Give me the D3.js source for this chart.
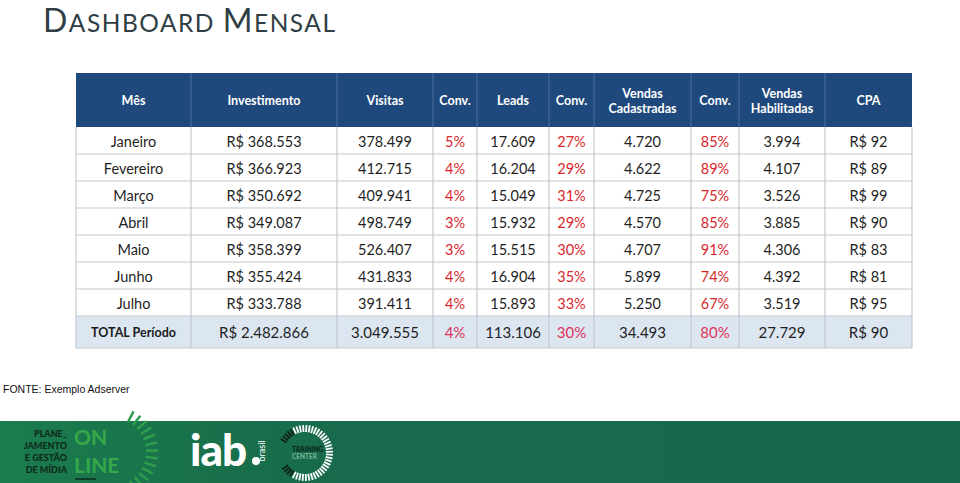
<!DOCTYPE html>
<html>
<head>
  <meta charset="utf-8">
  <title>Dashboard Mensal</title>
  <script src="https://cdn.jsdelivr.net/npm/d3@7"></script>
  <style>
    body { margin: 0; background: #fff; }
    text { font-family: Lato, "Open Sans", sans-serif; }
  </style>
</head>
<body>
<script>
    // data
    var meses        = ["Janeiro", "Fevereiro", "Março", "Abril", "Maio", "Junho", "Julho"]
    var investimento = [368553, 366923, 350692, 349087, 358399, 355424, 333788]
    var visitas      = [378499, 412715, 409941, 498749, 526407, 431833, 391411]
    var convVisitas  = [5, 4, 4, 3, 3, 4, 4]
    var leads        = [17609, 16204, 15049, 15932, 15515, 16904, 15893]
    var convLeads    = [27, 29, 31, 29, 30, 35, 33]
    var vendasCad    = [4720, 4622, 4725, 4570, 4707, 5899, 5250]
    var convCad      = [85, 89, 75, 85, 91, 74, 67]
    var vendasHab    = [3994, 4107, 3526, 3885, 4306, 4392, 3519]
    var cpa          = [92, 89, 99, 90, 83, 81, 95]
    var totais       = [2482866, 3049555, 4, 113106, 30, 34493, 80, 27729, 90]

    var headers = [["Mês"], ["Investimento"], ["Visitas"], ["Conv."], ["Leads"], ["Conv."],
                   ["Vendas", "Cadastradas"], ["Conv."], ["Vendas", "Habilitadas"], ["CPA"]]

    var W = 960, H = 483
    var svg = d3.select("body").append("svg").attr("width", W).attr("height", H)

    // number formats (pt-BR)
    var br = d3.formatLocale({decimal: ",", thousands: ".", grouping: [3], currency: ["R$ ", ""]})
    var fNum = br.format(","), fMoney = br.format("$,")
    var fPct = function(d) { return d + "%" }

    // column types: text / money / number / pct
    var colType = ["text", "money", "num", "pct", "num", "pct", "num", "pct", "num", "money"]
    var colW = [115, 146, 96, 44, 72, 45, 97, 48, 86, 87]
    var left = 76
    var edges = [left]
    colW.forEach(function(w) { edges.push(edges[edges.length - 1] + w) })
    var x = d3.scaleOrdinal().domain(d3.range(colW.length)).range(edges.slice(0, -1))
    var right = edges[edges.length - 1]

    var headTop = 73, headBot = 127, totalH = 32
    var y = d3.scaleBand().domain(meses).range([headBot, headBot + 27 * meses.length])
    var totalTop = y.range()[1]

    // title
    var title = svg.append("text").attr("x", 43).attr("y", 32).attr("fill", "#2f3e44")
        .attr("letter-spacing", 1.5)
    ;[["D", 32], ["ASHBOARD ", 24.5], ["M", 32], ["ENSAL", 24.5]].forEach(function(p) {
        title.append("tspan").attr("font-size", p[1]).text(p[0])
    })

    // header
    svg.append("rect").attr("x", left).attr("y", headTop)
        .attr("width", right - left).attr("height", headBot - headTop).attr("fill", "#1f497d")
    svg.selectAll(".hsep").data(edges.slice(1, -1)).enter().append("line")
        .attr("x1", function(d) { return d }).attr("x2", function(d) { return d })
        .attr("y1", headTop).attr("y2", headBot)
        .attr("stroke", "#4f6f98").attr("stroke-width", 1)
    var hcy = (headTop + headBot) / 2 + 1
    svg.selectAll(".htxt").data(headers).enter().append("text")
        .attr("text-anchor", "middle").attr("fill", "#fff")
        .attr("font-size", 12.5).attr("font-weight", "bold")
        .each(function(d, i) {
            var t = d3.select(this), cx = x(i) + colW[i] / 2
            d.forEach(function(s, k) {
                t.append("tspan").attr("x", cx)
                    .attr("y", hcy + (k - (d.length - 1) / 2) * 15)
                    .attr("dy", "0.35em").text(s)
            })
        })

    // body rows
    var cols = [meses, investimento, visitas, convVisitas, leads, convLeads, vendasCad, convCad, vendasHab, cpa]
    function fmt(v, i) {
        var t = colType[i]
        return t == "money" ? fMoney(v) : t == "num" ? fNum(v) : t == "pct" ? fPct(v) : v
    }

    svg.append("rect").attr("x", left).attr("y", totalTop)
        .attr("width", right - left).attr("height", totalH).attr("fill", "#dce6f1")

    // grid lines
    var hLines = meses.map(function(m) { return y(m) + y.bandwidth() }).concat([totalTop + totalH])
    svg.selectAll(".hline").data(hLines).enter().append("line")
        .attr("x1", left).attr("x2", right)
        .attr("y1", function(d) { return d }).attr("y2", function(d) { return d })
        .attr("stroke", "#c4c9d0").attr("stroke-width", 1.2)
    svg.selectAll(".vline").data(edges).enter().append("line")
        .attr("x1", function(d) { return d }).attr("x2", function(d) { return d })
        .attr("y1", headBot).attr("y2", totalTop + totalH)
        .attr("stroke", "#c4c9d0").attr("stroke-width", 1.2)

    meses.forEach(function(m, r) {
        svg.selectAll(".cell" + r).data(cols).enter().append("text")
            .attr("x", function(d, i) { return x(i) + colW[i] / 2 })
            .attr("y", y(m) + y.bandwidth() / 2 + 1)
            .attr("dy", "0.35em").attr("text-anchor", "middle")
            .attr("font-size", 14.5)
            .attr("fill", function(d, i) { return colType[i] == "pct" ? "#d9262b" : "#1f1f1f" })
            .text(function(d, i) { return fmt(d[r], i) })
    })

    // total row
    var tcy = totalTop + totalH / 2 + 1
    svg.append("text").attr("x", x(0) + colW[0] / 2).attr("y", tcy).attr("dy", "0.35em")
        .attr("text-anchor", "middle").attr("font-size", 12.5).attr("font-weight", "bold")
        .attr("fill", "#1a1a1a").text("TOTAL Período")
    svg.selectAll(".tot").data(totais).enter().append("text")
        .attr("x", function(d, i) { return x(i + 1) + colW[i + 1] / 2 })
        .attr("y", tcy).attr("dy", "0.35em").attr("text-anchor", "middle")
        .attr("font-size", 15)
        .attr("fill", function(d, i) { return colType[i + 1] == "pct" ? "#e0325a" : "#1f1f1f" })
        .text(function(d, i) { return fmt(d, i + 1) })

    // source
    svg.append("text").attr("x", 3).attr("y", 393)
        .style("font-family", "'Liberation Sans', Arial, sans-serif")
        .attr("font-size", 10.5).attr("fill", "#111").text("FONTE: Exemplo Adserver")

    // footer band
    var defs = svg.append("defs")
    var g = defs.append("linearGradient").attr("id", "band")
    g.append("stop").attr("offset", "0").attr("stop-color", "#1b7c4d")
    g.append("stop").attr("offset", "0.35").attr("stop-color", "#176a4b")
    g.append("stop").attr("offset", "1").attr("stop-color", "#166a4b")
    svg.append("rect").attr("x", 0).attr("y", 421).attr("width", W).attr("height", H - 421)
        .attr("fill", "url(#band)")

    var plan = ["PLANE_", "JAMENTO", "E GESTÃO", "DE MÍDIA"]
    var planTxt = svg.append("text").attr("text-anchor", "end").attr("font-size", 9)
        .attr("font-weight", "900").attr("fill", "#0e2a1c")
    planTxt.selectAll("tspan").data(plan).enter().append("tspan")
        .attr("x", 67).attr("y", function(d, i) { return 437 + i * 12 })
        .text(function(d) { return d })
    var onTxt = svg.append("text").attr("font-size", 21).attr("font-weight", "bold")
        .attr("fill", "#35a84a")
    onTxt.selectAll("tspan").data(["ON", "LINE"]).enter().append("tspan")
        .attr("x", 74).attr("y", function(d, i) { return 445 + i * 28 })
        .text(function(d) { return d })
    svg.append("line").attr("x1", 75).attr("x2", 96).attr("y1", 479).attr("y2", 479)
        .attr("stroke", "#0e2a1c").attr("stroke-width", 1.5)

    // dashed arc
    var arcAng = d3.range(-62, 63, 10)
    svg.selectAll(".arcd").data(arcAng).enter().append("line")
        .each(function(a) {
            var r = a * Math.PI / 180, cx = 112, cy = 452
            d3.select(this)
                .attr("x1", cx + 34 * Math.cos(r)).attr("y1", cy + 34 * Math.sin(r))
                .attr("x2", cx + 46 * Math.cos(r)).attr("y2", cy + 46 * Math.sin(r))
        })
        .attr("stroke", "#2e9e4c").attr("stroke-width", 2.5)

    // iab
    svg.append("text").attr("x", 190).attr("y", 466).attr("font-size", 44).attr("font-weight", "900")
        .attr("fill", "#fff").attr("letter-spacing", -1).text("iab")
    svg.append("circle").attr("cx", 256).attr("cy", 461).attr("r", 4).attr("fill", "#fff")
    svg.append("text").attr("transform", "translate(265,451) rotate(-90)")
        .attr("text-anchor", "middle").attr("font-size", 9).attr("fill", "#fff").text("brasil")

    // training center
    var tcAng = d3.range(-150, 151, 7)
    svg.selectAll(".tcd").data(tcAng).enter().append("line")
        .each(function(a) {
            var r = a * Math.PI / 180, cx = 305, cy = 453
            d3.select(this)
                .attr("x1", cx + 21 * Math.cos(r)).attr("y1", cy + 21 * Math.sin(r))
                .attr("x2", cx + 28 * Math.cos(r)).attr("y2", cy + 28 * Math.sin(r))
        })
        .attr("stroke", function(a) { return Math.abs(a) > 120 ? "#0e1f17" : "#fff" })
        .attr("stroke-width", 1.8)
    var tcTxt = svg.append("text").attr("font-size", 6.5).attr("font-weight", "bold")
    tcTxt.selectAll("tspan").data(["TRAINING", "CENTER"]).enter().append("tspan")
        .attr("x", 292).attr("y", function(d, i) { return 452 + i * 7 })
        .attr("fill", function(d, i) { return i ? "#7fb89a" : "#0e1f17" })
        .text(function(d) { return d })
</script>
</body>
</html>
